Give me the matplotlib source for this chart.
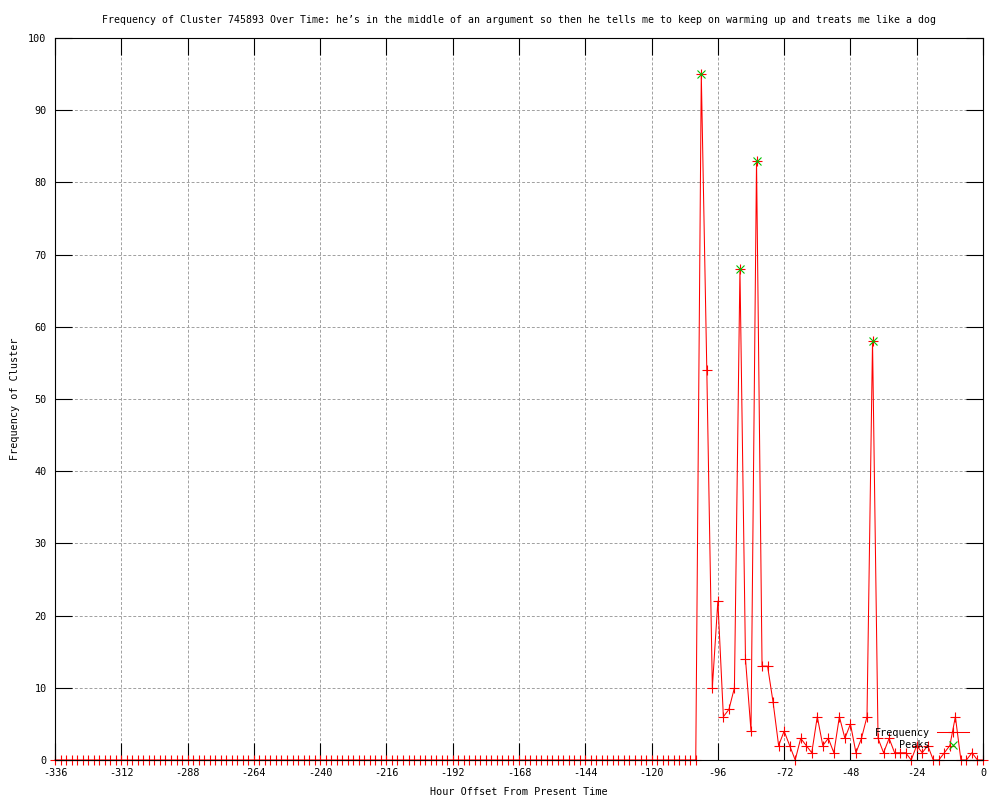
import numpy as np
import matplotlib
matplotlib.use("Agg")
import matplotlib.pyplot as plt

plt.rcParams['font.family'] = ['DejaVu Sans Mono', 'DejaVu Sans']
plt.rcParams['axes.unicode_minus'] = False

# ---- data ----
hours = list(range(-336, 1, 2))
freq_zero_part = [0] * 117          # -336 .. -104
freq_active = [95, 54, 10, 22, 6, 7, 10, 68, 14, 4, 83, 13, 13, 8, 2, 4, 2, 0,
               3, 2, 1, 6, 2, 3, 1, 6, 3, 5, 1, 3, 6, 58, 3, 1, 3, 1, 1, 1, 0,
               2, 1, 2, 0, 0, 1, 2, 6, 0, 0, 1, 0, 0]   # -102 .. 0
frequency = freq_zero_part + freq_active

peak_hours = [-102, -88, -82, -40]
peak_values = [95, 68, 83, 58]

x_ticks = list(range(-336, 1, 24))
y_ticks = list(range(0, 101, 10))

title = ("Frequency of Cluster 745893 Over Time: he\u2019s in the middle of an argument "
         "so then he tells me to keep on warming up and treats me like a dog")

FS = 7.25
fig = plt.figure(figsize=(10, 8), dpi=100)
ax = fig.add_axes([0.055, 0.05, 0.928, 0.9025])

ax.plot(hours, frequency, color='#ff0000', lw=0.75, marker='+', ms=7, mew=0.8,
        label='Frequency', clip_on=False, zorder=3)
ax.plot(peak_hours, peak_values, ls='none', color='#00c000', marker='x', ms=6,
        mew=0.8, label='Peaks', clip_on=False, zorder=4)

ax.set_xlim(-336, 0)
ax.set_ylim(0, 100)
ax.set_xticks(x_ticks)
ax.set_yticks(y_ticks)
ax.tick_params(direction='in', length=12, width=0.8, top=True, right=True,
               labelsize=FS, pad=6, colors='black')
ax.grid(True, color='#a0a0a0', linestyle=(0, (3, 2)), linewidth=0.7)
ax.set_axisbelow(True)
for s in ax.spines.values():
    s.set_linewidth(0.8)
    s.set_zorder(5)

ax.set_title(title, fontsize=7.15, pad=11)
ax.set_xlabel('Hour Offset From Present Time', fontsize=FS, labelpad=6)
ax.set_ylabel('Frequency of Cluster', fontsize=FS, labelpad=6)

ax.legend(loc='center right', bbox_to_anchor=(0.969, 0.0763),
          bbox_transform=fig.transFigure, frameon=False, markerfirst=False,
          fontsize=FS, handlelength=3.2, handletextpad=0.7,
          labelspacing=0.25, borderpad=0, borderaxespad=0)

fig.savefig('out.png', dpi=100)
